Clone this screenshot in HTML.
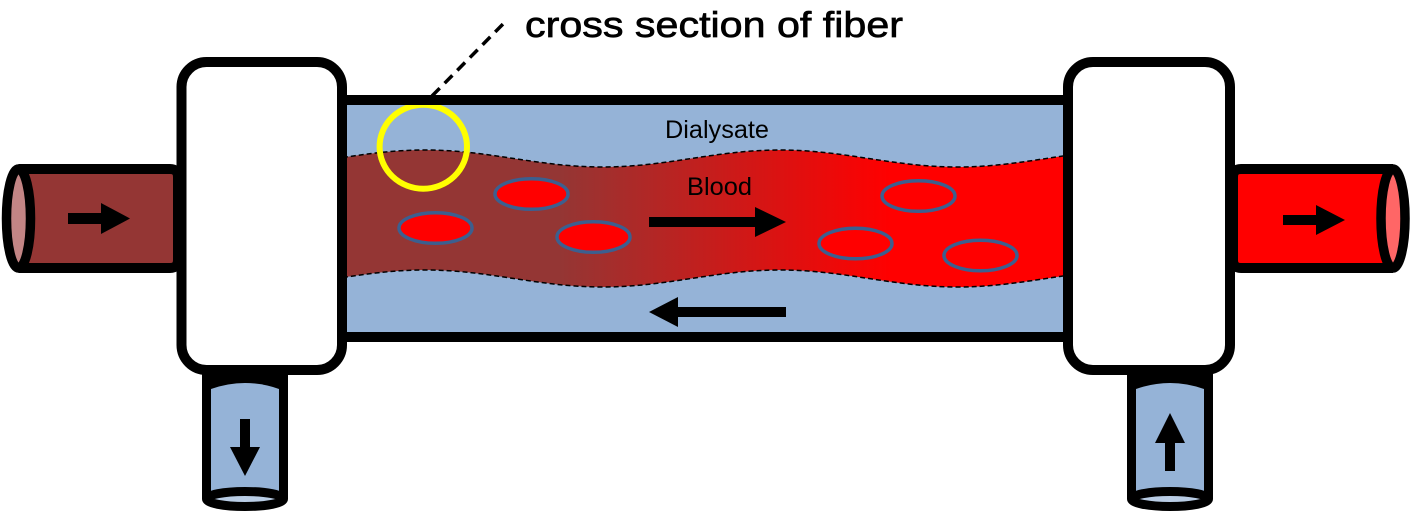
<!DOCTYPE html>
<html>
<head>
<meta charset="utf-8">
<style>
  html,body{margin:0;padding:0;background:#fff;}
  svg{display:block;}
</style>
</head>
<body>
<svg width="1411" height="517" viewBox="0 0 1411 517" xmlns="http://www.w3.org/2000/svg">
  <defs>
    <linearGradient id="bg" gradientUnits="userSpaceOnUse" x1="560" y1="0" x2="890" y2="0">
      <stop offset="0" stop-color="#943634"/>
      <stop offset="1" stop-color="#FF0000"/>
    </linearGradient>
    <clipPath id="tc">
      <rect x="347" y="105" width="716" height="227"/>
    </clipPath>
  </defs>

  <!-- main tube fill -->
  <rect x="345" y="104" width="720" height="229" fill="#95B3D7"/>

  <!-- blood band -->
  <g clip-path="url(#tc)">
    <path d="M247.5,167 C312.1,167 360.4,150 425,150 C489.6,150 537.9,167 602.5,167 C667.1,167 715.4,150 780,150 C844.6,150 892.9,167 957.5,167 C1022.1,167 1070.4,150 1135,150 L1135,270 C1070.4,270 1022.1,287 957.5,287 C892.9,287 844.6,270 780,270 C715.4,270 667.1,287 602.5,287 C537.9,287 489.6,270 425,270 C360.4,270 312.1,287 247.5,287 Z" fill="url(#bg)"/>
    <path d="M247.5,167 C312.1,167 360.4,150 425,150 C489.6,150 537.9,167 602.5,167 C667.1,167 715.4,150 780,150 C844.6,150 892.9,167 957.5,167 C1022.1,167 1070.4,150 1135,150" fill="none" stroke="#000" stroke-width="1.5" stroke-dasharray="5,3"/>
    <path d="M247.5,287 C312.1,287 360.4,270 425,270 C489.6,270 537.9,287 602.5,287 C667.1,287 715.4,270 780,270 C844.6,270 892.9,287 957.5,287 C1022.1,287 1070.4,270 1135,270" fill="none" stroke="#000" stroke-width="1.5" stroke-dasharray="5,3"/>
  </g>

  <!-- red blood cells -->
  <g fill="#FF0000" stroke="#3C5F8F" stroke-width="3.5">
    <ellipse cx="435.5" cy="228" rx="36.5" ry="15.3"/>
    <ellipse cx="531.5" cy="194" rx="36.5" ry="15.3"/>
    <ellipse cx="593.5" cy="237" rx="36.5" ry="15.3"/>
    <ellipse cx="918.5" cy="196" rx="36.5" ry="15.3"/>
    <ellipse cx="855.5" cy="243.5" rx="36.5" ry="15.3"/>
    <ellipse cx="980.5" cy="255.5" rx="36.5" ry="15.3"/>
  </g>

  <!-- yellow circle -->
  <ellipse cx="423.3" cy="146.7" rx="43.7" ry="42" fill="none" stroke="#FFFF00" stroke-width="6"/>

  <!-- labels -->
  <text x="665" y="138" font-family="Liberation Sans, sans-serif" font-size="25" textLength="104" lengthAdjust="spacingAndGlyphs" fill="#000">Dialysate</text>
  <text x="687" y="195" font-family="Liberation Sans, sans-serif" font-size="25" textLength="65" lengthAdjust="spacingAndGlyphs" fill="#000">Blood</text>
  <text x="525" y="37" font-family="Liberation Sans, sans-serif" font-size="36" textLength="378" lengthAdjust="spacingAndGlyphs" fill="#000" stroke="#000" stroke-width="0.7">cross section of fiber</text>

  <!-- leader line -->
  <line x1="432" y1="96" x2="503" y2="24" stroke="#000" stroke-width="3.5" stroke-dasharray="11,7"/>

  <!-- main tube arrows -->
  <rect x="649" y="217" width="108" height="10" fill="#000"/>
  <polygon points="755,207 786,222 755,237" fill="#000"/>
  <polygon points="649,312 678,297 678,327" fill="#000"/>
  <rect x="676" y="307" width="110" height="10" fill="#000"/>

  <!-- main tube borders -->
  <rect x="340" y="95" width="730" height="10" fill="#000"/>
  <rect x="340" y="332" width="730" height="10" fill="#000"/>

  <!-- left horizontal tube -->
  <path d="M18.5,169 L170,169 Q178,169 178,177 L178,260 Q178,268 170,268 L18.5,268 Z" fill="#943634"/>
  <path d="M18.5,169 L170,169 Q178,169 178,177 L178,260 Q178,268 170,268 L18.5,268" fill="none" stroke="#000" stroke-width="10"/>
  <ellipse cx="18.5" cy="218.5" rx="12" ry="49.5" fill="#C38585" stroke="#000" stroke-width="9.5"/>
  <rect x="68" y="213" width="34" height="11" fill="#000"/>
  <polygon points="101,203 130,218.5 101,234" fill="#000"/>

  <!-- right horizontal tube -->
  <path d="M1393,169 L1241,169 Q1233,169 1233,177 L1233,260 Q1233,268 1241,268 L1393,268 Z" fill="#FF0000"/>
  <path d="M1393,169 L1241,169 Q1233,169 1233,177 L1233,260 Q1233,268 1241,268 L1393,268" fill="none" stroke="#000" stroke-width="10"/>
  <ellipse cx="1393" cy="218.5" rx="12" ry="49.5" fill="#FF6666" stroke="#000" stroke-width="9.5"/>
  <rect x="1283" y="215" width="34" height="10" fill="#000"/>
  <polygon points="1316,205 1345,220 1316,235" fill="#000"/>

  <!-- boxes -->
  <rect x="181.5" y="62" width="160.5" height="308" rx="25" ry="25" fill="#fff" stroke="#000" stroke-width="10"/>
  <rect x="1068" y="62" width="162" height="308" rx="25" ry="25" fill="#fff" stroke="#000" stroke-width="10"/>

  <!-- left bottom tube -->
  <rect x="202" y="373" width="86" height="126" fill="#000"/>
  <path d="M211,389 Q245,377 279,389 L279,499 L211,499 Z" fill="#95B3D7"/>
  <ellipse cx="245" cy="499" rx="38.5" ry="7.5" fill="#B9CDE5" stroke="#000" stroke-width="9"/>
  <rect x="240" y="419" width="10" height="30" fill="#000"/>
  <polygon points="230,447 260,447 245,476" fill="#000"/>

  <!-- right bottom tube -->
  <rect x="1127" y="373" width="86" height="126" fill="#000"/>
  <path d="M1136,389 Q1170,377 1204,389 L1204,499 L1136,499 Z" fill="#95B3D7"/>
  <ellipse cx="1170" cy="499" rx="38.5" ry="7.5" fill="#B9CDE5" stroke="#000" stroke-width="9"/>
  <polygon points="1170,413 1185,443 1155,443" fill="#000"/>
  <rect x="1165" y="441" width="10" height="30" fill="#000"/>
</svg>
</body>
</html>
